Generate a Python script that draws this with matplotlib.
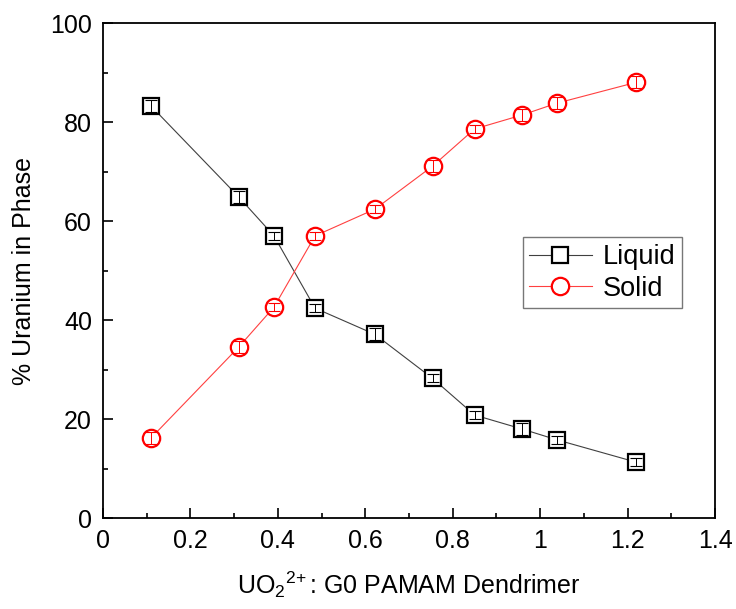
import matplotlib
matplotlib.use("Agg")
import matplotlib.pyplot as plt
from matplotlib.ticker import MultipleLocator
from matplotlib.lines import Line2D

plt.rcParams["font.family"] = ["Liberation Sans", "DejaVu Sans"]
plt.rcParams["mathtext.fontset"] = "custom"
plt.rcParams["mathtext.rm"] = "Liberation Sans"
plt.rcParams["mathtext.it"] = "Liberation Sans:italic"

# ratio UO2 2+ : G0 PAMAM
ratio = [0.109, 0.310, 0.391, 0.485, 0.622, 0.754, 0.850, 0.958, 1.038, 1.219]
liquid = [83.3, 64.9, 57.0, 42.4, 37.1, 28.2, 20.8, 18.0, 15.8, 11.3]
solid = [16.1, 34.5, 42.6, 57.0, 62.4, 71.1, 78.6, 81.4, 83.8, 88.0]
liquid_err = [1.2, 1.2, 0.8, 0.8, 1.2, 0.8, 0.8, 1.2, 0.8, 0.8]
solid_err = [1.2, 1.2, 0.8, 0.8, 0.8, 1.2, 0.8, 1.2, 1.2, 1.2]

fig = plt.figure(figsize=(7.36, 6.09), dpi=100)
ax = fig.add_axes([0.140, 0.1494, 0.8315, 0.8128])

sq = dict(marker="s", ms=11, mfc="white", mec="black", mew=1.6)
ci = dict(marker="o", ms=12.5, mfc="white", mec="red", mew=1.6)

ax.plot(ratio, liquid, color="#404040", lw=0.8, zorder=3, **sq)
ax.plot(ratio, solid, color="#ff4040", lw=0.8, zorder=3, **ci)
# error bars sit on top of the open markers
ax.errorbar(ratio, liquid, yerr=liquid_err, fmt="none", ecolor="black",
            elinewidth=0.7, capsize=4, capthick=0.8, zorder=4)
ax.errorbar(ratio, solid, yerr=solid_err, fmt="none", ecolor="red",
            elinewidth=0.7, capsize=4, capthick=0.8, zorder=4)

ax.set_xlim(0, 1.4)
ax.set_ylim(0, 100)
ax.xaxis.set_minor_locator(MultipleLocator(0.1))
ax.yaxis.set_major_locator(MultipleLocator(20))
ax.yaxis.set_minor_locator(MultipleLocator(10))
ax.set_xticks([0, 0.2, 0.4, 0.6, 0.8, 1.0, 1.2, 1.4])
ax.set_xticklabels(["0", "0.2", "0.4", "0.6", "0.8", "1", "1.2", "1.4"])

ax.tick_params(which="both", direction="in", labelsize=18, width=1.2, pad=8)
ax.tick_params(which="major", length=7)
ax.tick_params(which="minor", length=3.5)
for s in ax.spines.values():
    s.set_linewidth(1.3)

ax.set_xlabel(r"UO$_\mathregular{2}$$^\mathregular{2\!+}$: G0 PAMAM Dendrimer",
              fontsize=18, labelpad=12)
ax.set_ylabel("% Uranium in Phase", fontsize=18, labelpad=10)

handles = [Line2D([], [], color="#404040", lw=0.8, **sq),
           Line2D([], [], color="#ff4040", lw=0.8, **ci)]
leg = ax.legend(handles, ["Liquid", "Solid"], loc="upper right",
                bbox_to_anchor=(0.946, 0.567), fontsize=19.5,
                frameon=True, fancybox=False, edgecolor="#555555",
                handlelength=2.3, handletextpad=0.4, borderpad=0.25,
                labelspacing=0.2, borderaxespad=0)
leg.get_frame().set_linewidth(1.0)

fig.savefig("out.png", dpi=100)
